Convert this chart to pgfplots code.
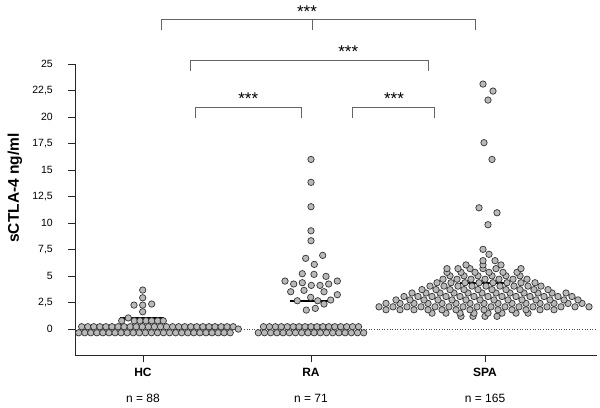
\documentclass[border=0pt]{standalone}
\usepackage{pgfplots}
\pgfplotsset{compat=1.18}
\usepackage{fontspec}
\setmainfont{Liberation Sans}
\definecolor{dotfill}{RGB}{185,185,185}
\definecolor{dotedge}{RGB}{50,50,50}
\definecolor{brk}{RGB}{100,100,100}
\begin{document}
\begin{tikzpicture}
\begin{axis}[
  scale only axis, width=522pt, height=291pt,
  xmin=75, xmax=597, ymin=-2.45, ymax=25,
  clip=false,
  axis x line*=bottom, axis y line*=left,
  axis line style={-, black!85, line width=0.8pt},
  tick align=outside,
  major tick length=7pt,
  tick style={black!85, line width=0.8pt},
  xtick={143,311,485},
  xticklabels={{\textbf{HC}\\[12pt]n = 88},{\textbf{RA}\\[12pt]n = 71},{\textbf{SPA}\\[12pt]n = 165}},
  xticklabel style={align=center, font=\fontsize{12}{14}\selectfont, yshift=-3pt},
  ytick={0,2.5,5,7.5,10,12.5,15,17.5,20,22.5,25},
  yticklabels={0,{2,5},5,{7,5},10,{12,5},15,{17,5},20,{22,5},25},
  yticklabel style={font=\fontsize{10.5}{12}\selectfont, anchor=east, inner xsep=0pt, xshift=-15pt},
  /pgf/number format/assume math mode=true,
  ylabel={\textbf{sCTLA-4 ng/ml}},
  every axis y label/.style={at={(rel axis cs:-0.115,0.574)}, rotate=90, anchor=center, font=\fontsize{15.5}{18}\selectfont},
  dots/.style={only marks, mark=*, mark size=3.2pt, mark options={fill=dotfill, draw=dotedge, line width=0.7pt}},
]
\coordinate (bbBL) at (axis cs:0,-7.36);
\coordinate (bbTR) at (axis cs:600,31.04);
% zero reference line
\addplot[black!70, dotted, line width=0.6pt] coordinates {(75,0) (597,0)};
% HC
\addplot[dots] coordinates {
(81.7,0.22)(87.8,0.22)(93.8,0.22)(99.9,0.22)(105.9,0.22)(112.0,0.22)(118.1,0.22)(124.1,0.22)(130.2,0.22)(136.2,0.22)(142.3,0.22)(148.4,0.22)(154.4,0.22)(160.5,0.22)(166.5,0.22)(172.6,0.22)(178.7,0.22)(184.7,0.22)(190.8,0.22)(196.8,0.22)(202.9,0.22)(209.0,0.22)(215.0,0.22)(221.1,0.22)(227.1,0.22)(233.2,0.22)
(78.7,-0.35)(84.8,-0.35)(90.8,-0.35)(96.9,-0.35)(102.9,-0.35)(109.0,-0.35)(115.1,-0.35)(121.1,-0.35)(127.2,-0.35)(133.2,-0.35)(139.3,-0.35)(145.4,-0.35)(151.4,-0.35)(157.5,-0.35)(163.5,-0.35)(169.6,-0.35)(175.7,-0.35)(181.7,-0.35)(187.8,-0.35)(193.8,-0.35)(199.9,-0.35)(206.0,-0.35)(212.0,-0.35)(218.1,-0.35)(224.1,-0.35)(230.2,-0.35)
(238.3,0)
(121.7,0.78)(128.3,1.05)(134.3,0.78)(140.0,0.78)(146.0,0.78)(151.7,0.78)(157.7,0.78)(163.3,0.78)
(142.7,1.63)(134.0,2.26)(142.7,2.26)(151.7,2.36)(142.7,2.95)(142.7,3.68)
};
% RA
\addplot[dots] coordinates {
(263.5,0.22)(269.4,0.22)(275.4,0.22)(281.3,0.22)(287.3,0.22)(293.2,0.22)(299.1,0.22)(305.1,0.22)(311.0,0.22)(317.0,0.22)(322.9,0.22)(328.8,0.22)(334.8,0.22)(340.7,0.22)(346.7,0.22)(352.6,0.22)(358.5,0.22)
(258.3,-0.35)(264.5,-0.35)(270.7,-0.35)(276.9,-0.35)(283.1,-0.35)(289.3,-0.35)(295.5,-0.35)(301.7,-0.35)(307.9,-0.35)(314.1,-0.35)(320.3,-0.35)(326.5,-0.35)(332.7,-0.35)(338.9,-0.35)(345.1,-0.35)(351.3,-0.35)(357.5,-0.35)(363.7,-0.35)
(311,16.0)(311,13.84)(311,11.54)(311,9.27)(311,8.33)
(305.7,6.67)(322.7,6.95)(314.3,6.1)(302.3,5.22)(314,5.16)(326,4.97)
(285,4.53)(293.7,4.25)(302.3,4.37)(311.3,4.12)(320,4.12)(328.7,4.25)(337.3,4.53)
(290.7,3.52)(304,3.65)(324,3.52)(337.3,3.24)(310.7,2.99)
(297.3,2.67)(317.7,2.67)(330.7,2.74)(324,2.36)(306.3,1.79)(315.3,1.95)
};
% SPA
\addplot[dots] coordinates {
(461,1.2)(473,1.2)(485,1.2)(497,1.2)
(432,1.5)(446,1.5)(460,1.5)(474,1.5)(488,1.5)(502,1.5)(516,1.5)(528,1.5)
(386,1.82)(400,1.82)(414,1.82)(428,1.82)(442,1.82)(456,1.82)(470,1.82)(484,1.82)(498,1.82)(512,1.82)(526,1.82)(540,1.82)(554,1.82)
(379,2.1)(393,2.1)(407,2.1)(421,2.1)(435,2.1)(449,2.1)(463,2.1)(477,2.1)(491,2.1)(505,2.1)(519,2.1)(533,2.1)(547,2.1)(561,2.1)(575,2.1)(589,2.1)
(386,2.42)(400,2.42)(414,2.42)(428,2.42)(442,2.42)(456,2.42)(470,2.42)(484,2.42)(498,2.42)(512,2.42)(526,2.42)(540,2.42)(554,2.42)(568,2.42)(582,2.42)
(396,2.75)(410,2.75)(424,2.75)(438,2.75)(452,2.75)(466,2.75)(480,2.75)(494,2.75)(508,2.75)(522,2.75)(536,2.75)(550,2.75)(564,2.75)(578,2.75)
(404,3.07)(418,3.07)(432,3.07)(446,3.07)(460,3.07)(474,3.07)(488,3.07)(502,3.07)(516,3.07)(530,3.07)(544,3.07)(558,3.07)(572,3.07)
(412,3.4)(426,3.4)(440,3.4)(454,3.4)(468,3.4)(482,3.4)(496,3.4)(510,3.4)(524,3.4)(538,3.4)(552,3.4)(566,3.4)
(422,3.72)(436,3.72)(450,3.72)(464,3.72)(478,3.72)(492,3.72)(506,3.72)(520,3.72)(534,3.72)(548,3.72)
(430,4.05)(444,4.05)(458,4.05)(472,4.05)(486,4.05)(500,4.05)(514,4.05)(528,4.05)(541,4.05)
(437,4.37)(451,4.37)(465,4.37)(479,4.37)(493,4.37)(507,4.37)(521,4.37)(535,4.37)
(443,4.7)(457,4.7)(471,4.7)(485,4.7)(499,4.7)(513,4.7)(527,4.7)
(450,5.02)(464,5.02)(478,5.02)(492,5.02)(506,5.02)(520,5.02)
(447,5.35)(461,5.35)(475,5.35)(489,5.35)(503,5.35)(517,5.35)
(447,5.7)(458,5.7)(470,5.7)(483,5.7)(496,5.7)(521,5.7)
(466,6.05)(483,6.05)(501,6.05)
(483,6.45)(495,6.45)
(489,7.05)(483,7.52)(488,9.84)(497,10.97)(479,11.44)(492,16.0)(484,17.58)(488,21.6)(493,22.45)(483,23.11)
};
% medians
\addplot[black, line width=2.2pt] coordinates {(120,1.0) (164,1.0)};
\addplot[black, line width=2.2pt] coordinates {(289.5,2.64) (333.3,2.64)};
\addplot[black, line width=2.2pt] coordinates {(460,4.31) (508.3,4.31)};
% significance brackets
\draw[brk, line width=0.8pt] (axis cs:161,28.2) -- (axis cs:161,29.25) -- (axis cs:475,29.25) -- (axis cs:475,28.2);
\draw[brk, line width=0.8pt] (axis cs:312,29.25) -- (axis cs:312,28.2);
\draw[brk, line width=0.8pt] (axis cs:190,24.34) -- (axis cs:190,25.35) -- (axis cs:428,25.35) -- (axis cs:428,24.34);
\draw[brk, line width=0.8pt] (axis cs:195,19.9) -- (axis cs:195,20.9) -- (axis cs:301,20.9) -- (axis cs:301,19.9);
\draw[brk, line width=0.8pt] (axis cs:352.3,19.9) -- (axis cs:352.3,20.9) -- (axis cs:434,20.9) -- (axis cs:434,19.9);
\node[anchor=base, inner sep=0pt, font=\fontsize{17}{19}\selectfont] at (axis cs:307,29.43) {***};
\node[anchor=base, inner sep=0pt, font=\fontsize{17}{19}\selectfont] at (axis cs:348.3,25.59) {***};
\node[anchor=base, inner sep=0pt, font=\fontsize{17}{19}\selectfont] at (axis cs:248.3,21.2) {***};
\node[anchor=base, inner sep=0pt, font=\fontsize{17}{19}\selectfont] at (axis cs:394,21.2) {***};
\end{axis}
\pgfresetboundingbox
\path[use as bounding box] (bbBL) rectangle (bbTR);
\end{tikzpicture}
\end{document}
